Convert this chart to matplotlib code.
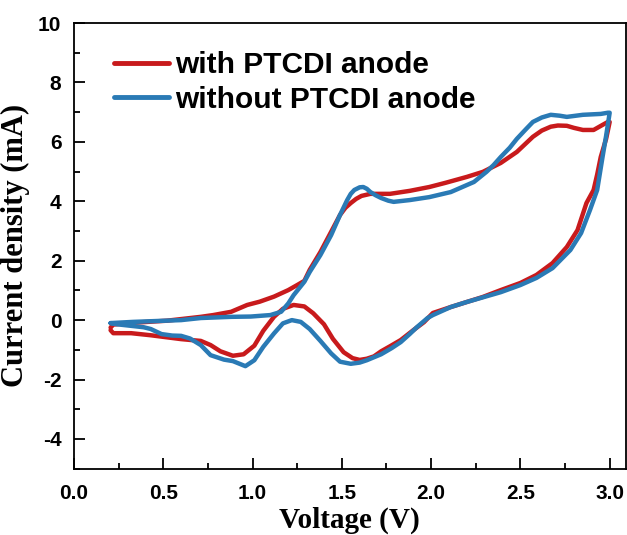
import matplotlib
matplotlib.use("Agg")
import matplotlib.pyplot as plt
from matplotlib.ticker import MultipleLocator

# with PTCDI anode: forward scan then reverse scan (V, mA)
red_v = [0.205, 0.22, 0.33, 0.52, 0.71, 0.78, 0.88, 0.97, 1.04, 1.12, 1.20, 1.25, 1.29, 1.32, 1.38,
         1.44, 1.49, 1.52, 1.55, 1.58, 1.61, 1.66, 1.77, 1.88, 1.99, 2.08, 2.20, 2.29, 2.39, 2.48, 2.57,
         2.62, 2.67, 2.71, 2.76, 2.80, 2.85, 2.91, 2.96, 2.99, 3.00,
         2.98, 2.95, 2.93, 2.91, 2.87, 2.82, 2.76, 2.68, 2.59, 2.50, 2.39, 2.29, 2.20, 2.11, 2.01, 1.96,
         1.90, 1.83, 1.77, 1.72, 1.68, 1.64, 1.60, 1.56, 1.51, 1.45, 1.40, 1.34, 1.29, 1.23, 1.17, 1.12,
         1.06, 1.01, 0.95, 0.89, 0.82, 0.765, 0.71, 0.60, 0.43, 0.32, 0.22, 0.205]
red_i = [-0.25, -0.15, -0.09, -0.02, 0.11, 0.17, 0.28, 0.51, 0.62, 0.79, 1.01, 1.18, 1.32, 1.69, 2.29,
         2.97, 3.54, 3.78, 3.94, 4.08, 4.18, 4.25, 4.25, 4.35, 4.48, 4.62, 4.82, 4.99, 5.29, 5.66, 6.17,
         6.38, 6.51, 6.55, 6.54, 6.47, 6.40, 6.40, 6.57, 6.67, 6.67,
         6.10, 5.49, 4.90, 4.38, 3.94, 3.03, 2.46, 1.92, 1.52, 1.25, 1.01, 0.78, 0.61, 0.44, 0.24, -0.07,
         -0.34, -0.67, -0.88, -1.05, -1.22, -1.30, -1.34, -1.28, -1.08, -0.63, -0.14, 0.23, 0.46, 0.51, 0.38, 0.11,
         -0.36, -0.86, -1.15, -1.20, -1.05, -0.84, -0.70, -0.64, -0.51, -0.44, -0.44, -0.34]

# without PTCDI anode
blue_v = [0.205, 0.33, 0.60, 0.71, 0.88, 0.99, 1.10, 1.16, 1.20, 1.23, 1.29, 1.32, 1.38, 1.44, 1.49,
          1.53, 1.55, 1.57, 1.60, 1.62, 1.64, 1.66, 1.69, 1.72, 1.76, 1.79, 1.88, 1.99, 2.11, 2.24,
          2.31, 2.35, 2.39, 2.44, 2.48, 2.53, 2.57, 2.62, 2.67, 2.72, 2.76, 2.85, 2.95, 2.99, 3.00,
          2.98, 2.96, 2.93, 2.89, 2.84, 2.78, 2.68, 2.59, 2.50, 2.39, 2.20, 2.11, 2.01, 1.98, 1.92,
          1.88, 1.83, 1.78, 1.72, 1.64, 1.60, 1.55, 1.49, 1.44, 1.38, 1.32, 1.27, 1.22, 1.17, 1.12,
          1.06, 1.01, 0.96, 0.89, 0.84, 0.765, 0.71, 0.65, 0.60, 0.55, 0.49, 0.43, 0.39, 0.33, 0.24, 0.205]
blue_i = [-0.10, -0.06, 0.00, 0.07, 0.11, 0.12, 0.17, 0.28, 0.56, 0.84, 1.29, 1.62, 2.19, 2.86, 3.54,
          4.04, 4.25, 4.38, 4.47, 4.48, 4.42, 4.31, 4.20, 4.11, 4.02, 3.98, 4.04, 4.14, 4.31, 4.65,
          4.99, 5.22, 5.49, 5.80, 6.10, 6.42, 6.67, 6.82, 6.91, 6.88, 6.84, 6.91, 6.94, 6.98, 6.98,
          6.20, 5.49, 4.38, 3.71, 2.93, 2.36, 1.75, 1.42, 1.18, 0.94, 0.61, 0.44, 0.17, 0.07, -0.24,
          -0.47, -0.74, -0.94, -1.15, -1.35, -1.43, -1.47, -1.40, -1.12, -0.70, -0.30, -0.06, 0.00, -0.11, -0.45,
          -0.90, -1.35, -1.55, -1.38, -1.33, -1.18, -0.84, -0.62, -0.53, -0.52, -0.47, -0.30, -0.24, -0.20, -0.14, -0.10]

labels = ["with PTCDI anode", "without PTCDI anode"]
colors = ["#c81a1c", "#2a7ab5"]

x_ticks = [0.0, 0.5, 1.0, 1.5, 2.0, 2.5, 3.0]
y_ticks = [-4, -2, 0, 2, 4, 6, 8, 10]

fig = plt.figure(figsize=(6.27, 5.35), dpi=100)
ax = fig.add_axes([0.118, 0.124, 0.880, 0.833])

ax.plot(red_v, red_i, color=colors[0], lw=3.2, label=labels[0],
        solid_joinstyle="round", solid_capstyle="round")
ax.plot(blue_v, blue_i, color=colors[1], lw=3.2, label=labels[1],
        solid_joinstyle="round", solid_capstyle="round")

ax.set_xlim(0, 3.09)
ax.set_ylim(-5, 10)
ax.set_xticks(x_ticks)
ax.set_xticklabels([f"{t:.1f}" for t in x_ticks])
ax.set_yticks(y_ticks)
ax.set_yticklabels([str(t) for t in y_ticks])
ax.xaxis.set_minor_locator(MultipleLocator(0.25))
ax.yaxis.set_minor_locator(MultipleLocator(1))
ax.tick_params(axis="x", which="major", pad=11)
ax.tick_params(axis="y", which="major", pad=9)
ax.tick_params(which="major", direction="in", length=8, width=1.3, top=False, right=False)
ax.tick_params(which="minor", direction="in", length=4.5, width=1.3, top=False, right=False)
for lab in ax.get_xticklabels() + ax.get_yticklabels():
    lab.set_fontfamily("Liberation Sans")
    lab.set_fontweight("bold")
    lab.set_fontsize(15)
for s in ax.spines.values():
    s.set_linewidth(1.3)

ax.set_xlabel("Voltage (V)", family="Liberation Serif", fontweight="bold", fontsize=21, labelpad=3)
ax.set_ylabel("Current density (mA)", family="Liberation Serif", fontweight="bold", fontsize=22, labelpad=6)

leg = ax.legend(loc="upper left", bbox_to_anchor=(0.072, 0.937), frameon=False,
                prop={"family": "Liberation Sans", "weight": "bold", "size": 21.5},
                handlelength=1.85, handletextpad=0.2, labelspacing=0.22, borderpad=0, borderaxespad=0)
for h in leg.get_lines():
    h.set_linewidth(3.5)

fig.savefig("out.png", dpi=100)
